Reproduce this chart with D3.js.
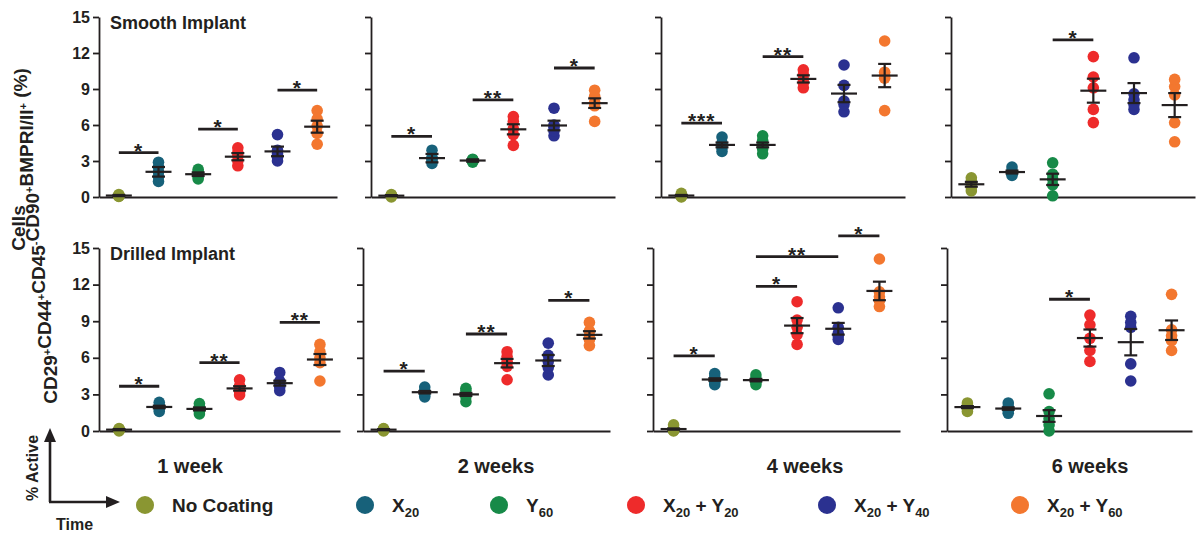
<!DOCTYPE html>
<html>
<head>
<meta charset="utf-8">
<script src="https://cdn.jsdelivr.net/npm/d3@7"></script>
<style>
  body { margin: 0; background: #fff; }
</style>
</head>
<body>
<div id="chart"></div>
<script>
// groups and colours
const groups = ["No Coating", "X20", "Y60", "X20 + Y20", "X20 + Y40", "X20 + Y60"];
const colors = ["#8a9632", "#17617a", "#178a48", "#ee2b2b", "#2b3190", "#f3772f"];
const weeks = ["1 week", "2 weeks", "4 weeks", "6 weeks"];
const implants = ["Smooth Implant", "Drilled Implant"];
const yTicks = [0, 3, 6, 9, 12, 15];

// individual points, one list per group
const smooth1 = [[0.05, 0.1, 0.15, 0.2, 0.1], [1.3, 1.7, 2.1, 2.5, 2.9], [1.5, 1.7, 1.9, 2.1, 2.3],
  [2.6, 3.0, 3.4, 3.7, 4.1], [3.0, 3.3, 3.6, 3.9, 5.2], [4.4, 5.3, 5.9, 6.5, 7.2]];
const smooth2 = [[0.0, 0.1, 0.1, 0.2, 0.15], [2.8, 3.0, 3.2, 3.3, 3.9], [2.9, 3.0, 3.05, 3.1, 3.15],
  [4.3, 5.2, 5.7, 6.3, 6.7], [5.1, 5.5, 5.8, 6.0, 7.4], [6.3, 7.6, 7.9, 8.4, 8.9]];
const smooth4 = [[0.0, 0.05, 0.1, 0.15, 0.3], [3.8, 4.1, 4.3, 4.5, 5.0], [3.6, 4.0, 4.3, 4.7, 5.1],
  [9.1, 9.5, 9.8, 10.2, 10.6], [7.1, 7.7, 8.0, 9.3, 11.0], [7.2, 9.9, 10.1, 10.4, 13.0]];
const smooth6 = [[0.5, 0.8, 1.1, 1.3, 1.6], [1.8, 1.9, 2.0, 2.2, 2.5], [0.1, 1.0, 1.5, 1.9, 2.85],
  [6.2, 7.3, 9.1, 10.0, 11.7], [7.3, 7.7, 8.1, 8.6, 11.6], [4.6, 6.2, 8.5, 9.2, 9.8]];
const drilled1 = [[0.0, 0.1, 0.15, 0.2, 0.1], [1.6, 1.8, 2.0, 2.1, 2.35], [1.4, 1.6, 1.8, 2.0, 2.25],
  [2.95, 3.2, 3.4, 3.7, 4.2], [3.3, 3.6, 3.8, 4.1, 4.8], [4.1, 5.6, 6.0, 6.5, 7.1]];
const drilled2 = [[0.0, 0.1, 0.15, 0.2, 0.1], [2.8, 3.0, 3.2, 3.3, 3.6], [2.4, 2.8, 3.0, 3.3, 3.5],
  [4.2, 5.3, 5.7, 6.1, 6.5], [4.6, 5.2, 5.7, 6.2, 7.2], [7.0, 7.5, 7.8, 8.2, 8.9]];
const drilled4 = [[0.0, 0.05, 0.1, 0.15, 0.5], [3.8, 4.0, 4.2, 4.4, 4.7], [3.8, 4.0, 4.15, 4.3, 4.6],
  [7.1, 7.9, 8.5, 9.1, 10.6], [7.5, 7.8, 8.0, 8.5, 10.1], [10.2, 10.7, 11.0, 11.4, 14.1]];
const drilled6 = [[1.6, 1.8, 2.0, 2.1, 2.3], [1.45, 1.65, 1.8, 2.0, 2.3], [0.0, 0.5, 1.0, 1.6, 3.05],
  [5.7, 6.6, 7.6, 8.7, 9.5], [4.1, 5.5, 8.5, 8.9, 9.4], [6.6, 7.4, 7.8, 8.3, 11.2]];

// SEM half-heights per group
const smooth1Sem = [0.05, 0.4, 0.15, 0.3, 0.4, 0.5];
const smooth2Sem = [0.05, 0.35, 0.1, 0.42, 0.4, 0.4];
const smooth4Sem = [0.05, 0.2, 0.2, 0.3, 0.72, 0.97];
const smooth6Sem = [0.2, 0.12, 0.47, 1.0, 0.83, 1.0];
const drilled1Sem = [0.05, 0.1, 0.12, 0.18, 0.2, 0.45];
const drilled2Sem = [0.05, 0.1, 0.12, 0.35, 0.45, 0.3];
const drilled4Sem = [0.05, 0.1, 0.1, 0.62, 0.48, 0.76];
const drilled6Sem = [0.08, 0.1, 0.48, 0.7, 1.08, 0.8];

// significance bars: [from group, to group, height, label]
const smooth1Sig = [[0, 1, 3.7, "*"], [2, 3, 5.65, "*"], [4, 5, 8.9, "*"]];
const smooth2Sig = [[0, 1, 5.05, "*"], [2, 3, 8.1, "**"], [4, 5, 10.75, "*"]];
const smooth4Sig = [[0, 1, 6.15, "***"], [2, 3, 11.7, "**"]];
const smooth6Sig = [[2, 3, 13.1, "*"]];
const drilled1Sig = [[0, 1, 3.67, "*"], [2, 3, 5.6, "**"], [4, 5, 8.9, "**"]];
const drilled2Sig = [[0, 1, 4.9, "*"], [2, 3, 7.95, "**"], [4, 5, 10.7, "*"]];
const drilled4Sig = [[0, 1, 6.15, "*"], [2, 3, 11.85, "*"], [2, 4, 14.3, "**"], [4, 5, 16.0, "*"]];
const drilled6Sig = [[2, 3, 10.8, "*"]];

const points = [[smooth1, smooth2, smooth4, smooth6], [drilled1, drilled2, drilled4, drilled6]];
const sems = [[smooth1Sem, smooth2Sem, smooth4Sem, smooth6Sem], [drilled1Sem, drilled2Sem, drilled4Sem, drilled6Sem]];
const sigs = [[smooth1Sig, smooth2Sig, smooth4Sig, smooth6Sig], [drilled1Sig, drilled2Sig, drilled4Sig, drilled6Sig]];

// layout
let width = 1197;
let height = 533;
const rowY = [[197, 17], [431, 248]];
const colX = [
  [[99, 337], [371, 615], [661, 905], [951, 1195]],
  [[99, 340], [363, 610], [653, 900], [947, 1192]]
];
const ink = "#231f20";

let svg = d3.select("#chart")
  .append("svg")
  .attr("width", width)
  .attr("height", height)
  .style("font-family", "'Liberation Sans', Arial, sans-serif")
  .style("font-weight", "bold");

points.forEach(function(row, r) {
  row.forEach(function(panel, c) {
    let yScale = d3.scaleLinear().domain([0, 15]).range(rowY[r]);
    let xScale = d3.scalePoint().domain(groups).range(colX[r][c]).padding(0.5);
    let g = svg.append("g");

    // y axis
    let axisy = d3.axisLeft(yScale).tickValues(yTicks).tickSize(6).tickSizeOuter(0).tickPadding(3);
    if (c > 0) axisy.tickFormat("");
    let ay = g.append("g")
      .attr("transform", "translate(" + colX[r][c][0] + ",0)")
      .call(axisy);
    ay.selectAll("path, line").attr("stroke", ink).attr("stroke-width", 1.8);
    ay.selectAll("text")
      .attr("fill", ink)
      .attr("font-size", "16px")
      .attr("font-weight", "bold")
      .attr("font-family", "'Liberation Sans', Arial, sans-serif");

    // x axis (line only)
    let ax = g.append("g")
      .attr("transform", "translate(0," + yScale(0) + ")")
      .call(d3.axisBottom(xScale).tickValues([]).tickSizeOuter(0));
    ax.select("path").attr("stroke", ink).attr("stroke-width", 1.8);

    // dots
    panel.forEach(function(vals, i) {
      g.append("g")
        .selectAll("circle")
        .data(vals)
        .enter()
        .append("circle")
        .attr("cx", xScale(groups[i]))
        .attr("cy", function(d) { return yScale(d); })
        .attr("r", 5.8)
        .attr("fill", colors[i]);
    });

    // mean and sem
    panel.forEach(function(vals, i) {
      let m = d3.mean(vals);
      let s = sems[r][c][i];
      let cx = xScale(groups[i]);
      let eg = g.append("g").attr("stroke", ink).attr("stroke-width", 2.2);
      eg.append("line").attr("x1", cx - 13).attr("x2", cx + 13).attr("y1", yScale(m)).attr("y2", yScale(m));
      eg.append("line").attr("x1", cx).attr("x2", cx).attr("y1", yScale(m - s)).attr("y2", yScale(m + s));
      [m - s, m + s].forEach(function(v) {
        eg.append("line").attr("x1", cx - 6.5).attr("x2", cx + 6.5).attr("y1", yScale(v)).attr("y2", yScale(v));
      });
    });

    // significance
    sigs[r][c].forEach(function(d) {
      let x1 = xScale(groups[d[0]]);
      let x2 = xScale(groups[d[1]]);
      g.append("line")
        .attr("x1", x1).attr("x2", x2)
        .attr("y1", yScale(d[2])).attr("y2", yScale(d[2]))
        .attr("stroke", ink).attr("stroke-width", 2.8);
      g.append("text")
        .attr("x", (x1 + x2) / 2)
        .attr("y", yScale(d[2]) + 5)
        .attr("text-anchor", "middle")
        .attr("font-size", "21px")
        .attr("letter-spacing", "1px")
        .attr("fill", ink)
        .text(d[3]);
    });

    if (c === 0) {
      g.append("text")
        .attr("x", 110)
        .attr("y", rowY[r][1] + 12)
        .attr("font-size", "18px")
        .attr("fill", ink)
        .text(implants[r]);
    }
  });
});

// week labels
const weekX = [190, 496, 805, 1090];
weeks.forEach(function(w, i) {
  svg.append("text")
    .attr("x", weekX[i])
    .attr("y", 473)
    .attr("text-anchor", "middle")
    .attr("font-size", "20px")
    .attr("fill", ink)
    .text(w);
});

// y axis title
let yt = svg.append("g").attr("fill", ink).attr("font-size", "19px");
yt.append("text")
  .attr("transform", "translate(25,228) rotate(-90)")
  .attr("text-anchor", "middle")
  .text("Cells");
let lab = yt.append("text")
  .attr("transform", "translate(57,236) rotate(-90)")
  .attr("text-anchor", "middle");
[["CD29", "+"], ["CD44", "+"], ["CD45", "-"], ["CD90", "+"], ["BMPRI/II", "+"]].forEach(function(p) {
  lab.append("tspan").text(p[0]);
  lab.append("tspan").attr("dy", -6).attr("font-size", "11px").text(p[1]);
  lab.append("tspan").attr("dy", 6).text("");
});
lab.append("tspan").text(" (%)");

// active / time arrows
let arr = svg.append("g").attr("fill", ink);
arr.append("line").attr("x1", 50).attr("y1", 502).attr("x2", 50).attr("y2", 440)
  .attr("stroke", ink).attr("stroke-width", 2.6);
arr.append("line").attr("x1", 49).attr("y1", 502).attr("x2", 108).attr("y2", 502)
  .attr("stroke", ink).attr("stroke-width", 2.6);
arr.append("path").attr("d", "M50,428 L44,442 L56,442 Z");
arr.append("path").attr("d", "M120,502 L106,496 L106,508 Z");
arr.append("text")
  .attr("transform", "translate(38,468) rotate(-90)")
  .attr("text-anchor", "middle")
  .attr("font-size", "16px")
  .text("% Active");
arr.append("text")
  .attr("x", 56).attr("y", 530)
  .attr("font-size", "16px")
  .text("Time");

// legend
const legendX = [145, 365, 499, 636, 827, 1020];
const legendParts = [
  [["No Coating", 0]],
  [["X", 0], ["20", 1]],
  [["Y", 0], ["60", 1]],
  [["X", 0], ["20", 1], [" + Y", 0], ["20", 1]],
  [["X", 0], ["20", 1], [" + Y", 0], ["40", 1]],
  [["X", 0], ["20", 1], [" + Y", 0], ["60", 1]]
];
let leg = svg.append("g");
groups.forEach(function(gname, i) {
  leg.append("circle")
    .attr("cx", legendX[i])
    .attr("cy", 505)
    .attr("r", 9)
    .attr("fill", colors[i]);
  let t = leg.append("text")
    .attr("x", legendX[i] + 27)
    .attr("y", 512)
    .attr("font-size", "19px")
    .attr("fill", ink);
  let prevSub = 0;
  legendParts[i].forEach(function(p) {
    t.append("tspan")
      .attr("dy", p[1] === prevSub ? 0 : (p[1] ? 5 : -5))
      .attr("font-size", p[1] ? "13px" : "19px")
      .text(p[0]);
    prevSub = p[1];
  });
});
</script>
</body>
</html>
